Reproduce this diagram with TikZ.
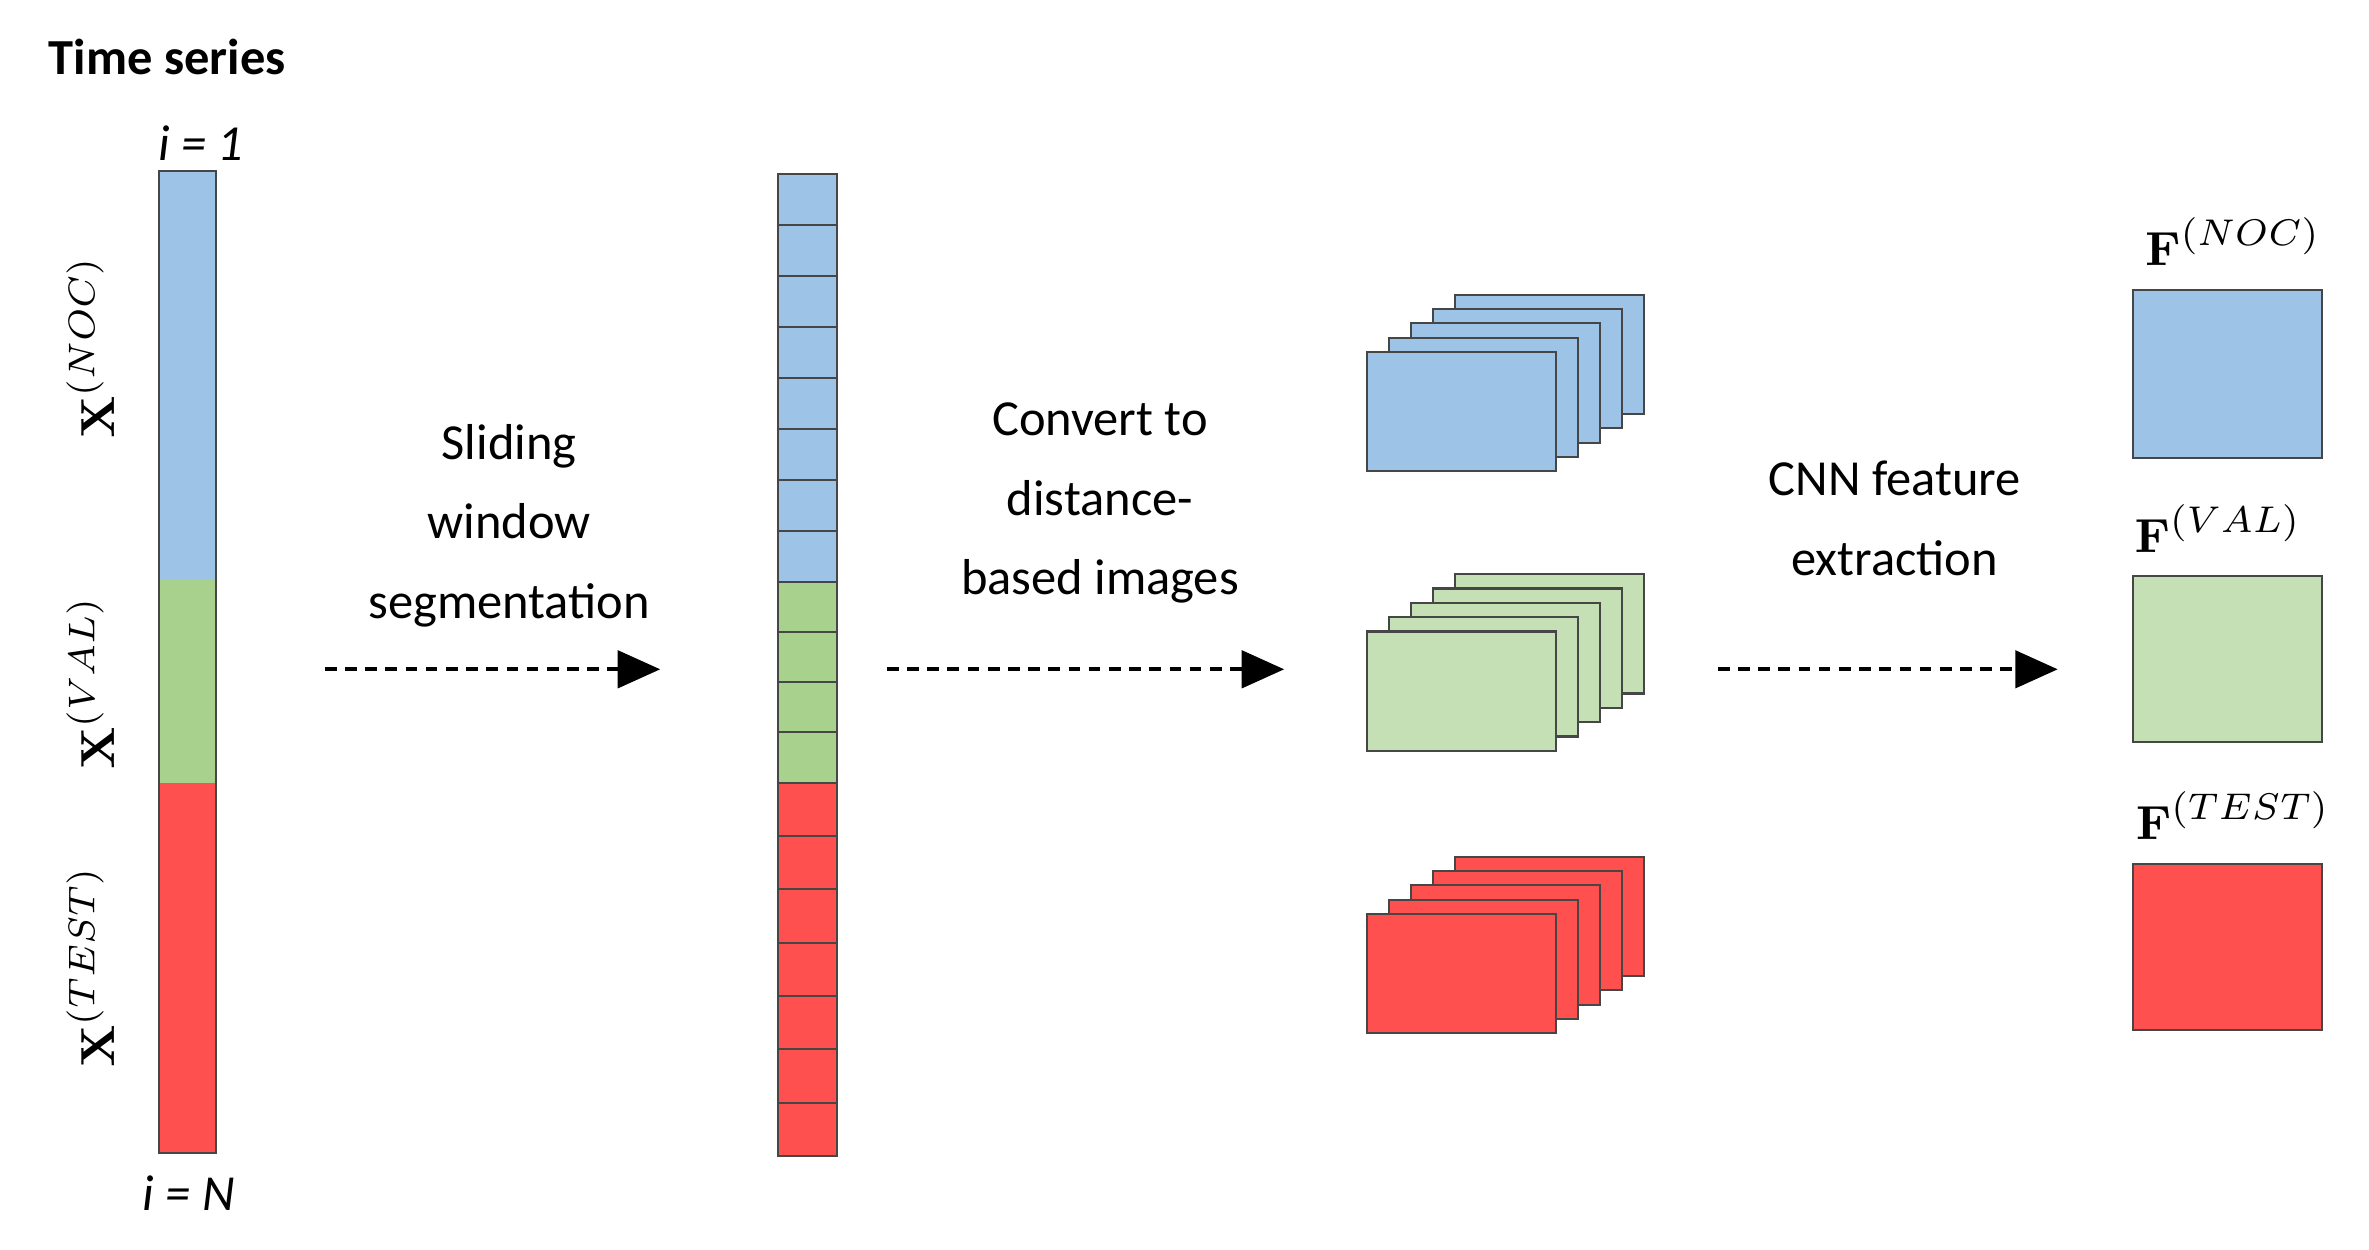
\documentclass[tikz,border=0pt]{standalone}
\usepackage[no-math]{fontspec}
\setmainfont{Carlito}
\usepackage{amsmath}
\usetikzlibrary{arrows.meta}
\definecolor{cb}{RGB}{157,195,230}
\definecolor{cg}{RGB}{169,209,142}
\definecolor{cgl}{RGB}{197,224,180}
\definecolor{cr}{RGB}{255,80,80}
\definecolor{ed}{RGB}{70,70,70}
\tikzset{
  seg/.style={draw=ed,line width=0.4pt},
  lbl/.style={font=\fontsize{9.5}{15}\selectfont,align=center},
  darrow/.style={line width=0.8pt,dash pattern=on 2.2pt off 1.6pt,-{Triangle[length=8pt,width=7pt]}},
  mlab/.style={font=\fontsize{9.5}{11}\selectfont}
}
\begin{document}
\begin{tikzpicture}[x=0.01cm,y=-0.01cm]
\useasboundingbox (0,0) rectangle (1568,827);
\node[anchor=west,font=\bfseries\fontsize{9.5}{11}\selectfont] (ts) at (20,38) {Time series};
% left bar
\fill[cb] (105,113) rectangle (143,383);
\fill[cg] (105,383) rectangle (143,518);
\fill[cr] (105,518) rectangle (143,763);
\draw[seg] (105,113) rectangle (143,763);
\node[font=\itshape\fontsize{9.5}{11}\selectfont] (i1) at (133,95) {i = 1};
\node[font=\itshape\fontsize{9.5}{11}\selectfont] (iN) at (125,790) {i = N};
\node[mlab,rotate=90] (xn) at (60,230) {$\mathbf{X}^{(NOC)}$};
\node[mlab,rotate=90] (xv) at (60,452) {$\mathbf{X}^{(VAL)}$};
\node[mlab,rotate=90] (xt) at (60,640) {$\mathbf{X}^{(TEST)}$};
% middle bar
\foreach \i in {0,...,7}{\draw[seg,fill=cb] (515,{115+\i*33.75}) rectangle (554,{115+(\i+1)*33.75});}
\foreach \i in {0,...,3}{\draw[seg,fill=cg] (515,{385+\i*33.25}) rectangle (554,{385+(\i+1)*33.25});}
\foreach \i in {0,...,6}{\draw[seg,fill=cr] (515,{518+\i*35.3}) rectangle (554,{518+(\i+1)*35.3});}
% arrows
\coordinate (a1s) at (215,443); \coordinate (a1e) at (437,443);
\coordinate (a2s) at (587,443); \coordinate (a2e) at (850,443);
\coordinate (a3s) at (1137,443); \coordinate (a3e) at (1362,443);
\draw[darrow] (a1s) -- (a1e);
\draw[darrow] (a2s) -- (a2e);
\draw[darrow] (a3s) -- (a3e);
\node[lbl] (t1) at (337,348) {Sliding\\window\\segmentation};
\node[lbl] (t2) at (728,333) {Convert to\\distance-\\based images};
\node[lbl] (t3) at (1254,343) {CNN feature\\extraction};
% stacks
\foreach \c/\y in {cb/233,cgl/418,cr/605}{
  \foreach \k in {4,3,2,1,0}{
    \draw[seg,fill=\c] ({905+\k*14.5},{\y-\k*9.5}) rectangle ({1030+\k*14.5},{\y+79-\k*9.5});
  }
}
% F boxes
\draw[seg,fill=cb] (1412,192) rectangle (1537,303);
\draw[seg,fill=cgl] (1412,381) rectangle (1537,491);
\draw[seg,fill=cr] (1412,572) rectangle (1537,682);
\node[mlab] (fn) at (1478,160) {$\mathbf{F}^{(NOC)}$};
\node[mlab] (fv) at (1468,350) {$\mathbf{F}^{(VAL)}$};
\node[mlab] (ft) at (1478,540) {$\mathbf{F}^{(TEST)}$};
\end{tikzpicture}
\end{document}
